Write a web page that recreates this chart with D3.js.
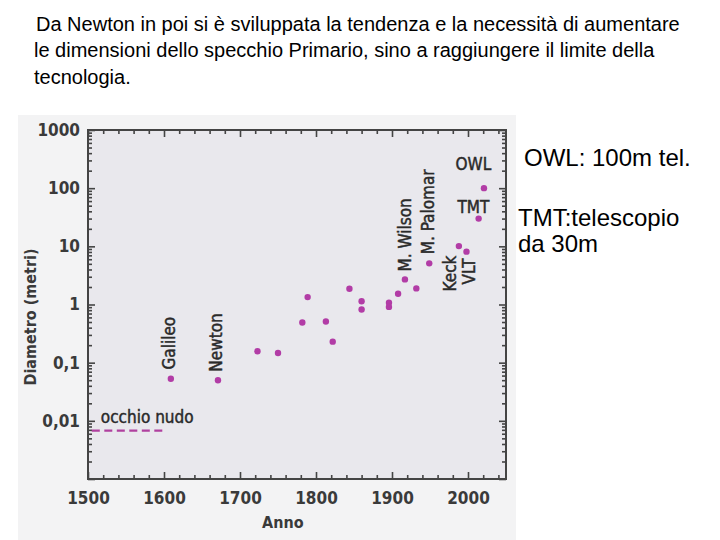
<!DOCTYPE html>
<html>
<head>
<meta charset="utf-8">
<script src="https://cdn.jsdelivr.net/npm/d3@7"></script>
<style>
  body { margin: 0; background: #ffffff; }
  svg { display: block; }
  .intro { font-family: "Liberation Sans", Arial, sans-serif; font-size: 20px; fill: #000; }
  .side  { font-family: "Liberation Sans", Arial, sans-serif; font-size: 24px; fill: #000; }
  .tick text, .lbl { font-family: "DejaVu Sans Condensed", "DejaVu Sans", sans-serif; font-weight: bold; fill: #3a3a3a; }
  .note { font-family: "DejaVu Sans Condensed", "DejaVu Sans", sans-serif; font-size: 17px; fill: #2a2a2a; stroke: #2a2a2a; stroke-width: 0.45; }
</style>
</head>
<body>
<div id="chart"></div>
<script>
// ---- data ----
const years     = [1609, 1671, 1723, 1750, 1782, 1789, 1813, 1822, 1844, 1860, 1860, 1896, 1896, 1908, 1917, 1932, 1949, 1988, 1998, 2014, 2021];
const diameters = [0.053, 0.05, 0.157, 0.147, 0.49, 1.34, 0.51, 0.23, 1.86, 1.14, 0.82, 1.07, 0.91, 1.53, 2.7, 1.89, 5.1, 10.1, 8.1, 30, 100];

// rotated labels (anchor = bottom centre of the text, in data units)
const vNames = ["Galileo", "Newton", "M. Wilson", "M. Palomar", "Keck", "VLT"];
const vYears = [1608, 1670, 1918, 1949, 1978, 2003];
const vDiams = [0.076, 0.07, 3.7, 7.3, 1.68, 2.21];

// horizontal labels
const hNames = ["OWL", "TMT"];
const hYears = [2007, 2007];
const hDiams = [204, 37];

// naked eye limit
const eyeYears = [1505, 1600];
const eyeDiam  = 0.0068;

const xMajor = [1500, 1600, 1700, 1800, 1900, 2000];
const yMajor = [0.001, 0.01, 0.1, 1, 10, 100, 1000];
const yLabels = {0.01: "0,01", 0.1: "0,1", 1: "1", 10: "10", 100: "100", 1000: "1000"};

const introLines = [
  "Da Newton in poi si è sviluppata la tendenza e la necessità di aumentare",
  "le dimensioni dello specchio Primario, sino a raggiungere il limite della",
  "tecnologia."
];
const sideLines = ["OWL: 100m tel.", "TMT:telescopio", "da 30m"];

// ---- drawing ----
const W = 720, H = 540;
const svg = d3.select("#chart").append("svg")
    .attr("width", W)
    .attr("height", H);

// intro text
svg.selectAll(".intro")
    .data(introLines)
    .enter().append("text")
    .attr("class", "intro")
    .attr("x", (d, i) => i === 0 ? 36 : 34)
    .attr("y", (d, i) => [31, 57, 84][i])
    .text(d => d);

// scanned-figure background
svg.append("rect")
    .attr("x", 18).attr("y", 115)
    .attr("width", 498).attr("height", 425)
    .attr("fill", "#f3f3f4");

const plot = {left: 88, right: 506, top: 130, bottom: 479};

const x = d3.scaleLinear().domain([1500, 2050]).range([plot.left, plot.right]);
const y = d3.scaleLog().domain([0.001, 1000]).range([plot.bottom, plot.top]);

svg.append("rect")
    .attr("x", plot.left).attr("y", plot.top)
    .attr("width", plot.right - plot.left)
    .attr("height", plot.bottom - plot.top)
    .attr("fill", "#e9e8ed");

// minor tick values
let xMinor = d3.range(1500, 2051, 20).filter(v => v % 100 !== 0);
let yMinor = [];
for (let e = -3; e < 3; e++) {
    for (let k = 2; k <= 9; k++) yMinor.push(k * Math.pow(10, e));
}

function styleAxis(g) {
    g.select(".domain").remove();
    g.selectAll(".tick line").attr("stroke", "#444").attr("stroke-width", 1.6);
}

// bottom
svg.append("g")
    .attr("transform", `translate(0,${plot.bottom})`)
    .call(d3.axisBottom(x).tickValues(xMajor).tickSize(-7).tickPadding(13).tickFormat(d3.format("d")))
    .call(styleAxis)
    .selectAll("text").style("font-size", "17px");
svg.append("g")
    .attr("transform", `translate(0,${plot.bottom})`)
    .call(d3.axisBottom(x).tickValues(xMinor).tickSize(-4).tickFormat(""))
    .call(styleAxis);

// top
svg.append("g")
    .attr("transform", `translate(0,${plot.top})`)
    .call(d3.axisTop(x).tickValues(xMajor).tickSize(-7).tickFormat(""))
    .call(styleAxis);
svg.append("g")
    .attr("transform", `translate(0,${plot.top})`)
    .call(d3.axisTop(x).tickValues(xMinor).tickSize(-4).tickFormat(""))
    .call(styleAxis);

// left
svg.append("g")
    .attr("transform", `translate(${plot.left},0)`)
    .call(d3.axisLeft(y).tickValues(yMajor).tickSize(-7).tickPadding(8).tickFormat(d => yLabels[d] || ""))
    .call(styleAxis)
    .selectAll("text").style("font-size", "17px");
svg.append("g")
    .attr("transform", `translate(${plot.left},0)`)
    .call(d3.axisLeft(y).tickValues(yMinor).tickSize(-4).tickFormat(""))
    .call(styleAxis);

// right
svg.append("g")
    .attr("transform", `translate(${plot.right},0)`)
    .call(d3.axisRight(y).tickValues(yMajor).tickSize(-7).tickFormat(""))
    .call(styleAxis);
svg.append("g")
    .attr("transform", `translate(${plot.right},0)`)
    .call(d3.axisRight(y).tickValues(yMinor).tickSize(-4).tickFormat(""))
    .call(styleAxis);

// frame
svg.append("rect")
    .attr("x", plot.left).attr("y", plot.top)
    .attr("width", plot.right - plot.left)
    .attr("height", plot.bottom - plot.top)
    .attr("fill", "none")
    .attr("stroke", "#444")
    .attr("stroke-width", 2);

// axis titles
svg.append("text")
    .attr("class", "lbl")
    .attr("transform", `translate(31,317) rotate(-90)`)
    .attr("text-anchor", "middle")
    .attr("dominant-baseline", "middle")
    .style("font-size", "16px")
    .text("Diametro (metri)");

svg.append("text")
    .attr("class", "lbl")
    .attr("x", 262)
    .attr("y", 528)
    .style("font-size", "16px")
    .text("Anno");

// naked eye dashed line + label
svg.append("line")
    .attr("x1", x(eyeYears[0])).attr("x2", x(eyeYears[1]))
    .attr("y1", y(eyeDiam)).attr("y2", y(eyeDiam))
    .attr("stroke", "#b0409f")
    .attr("stroke-width", 2.2)
    .attr("stroke-dasharray", "8,4.5");

svg.append("text")
    .attr("class", "note")
    .attr("x", x(eyeYears[0]) + 9)
    .attr("y", y(eyeDiam) - 8)
    .text("occhio nudo");

// points
svg.selectAll(".dot")
    .data(years.map((d, i) => ({year: d, diam: diameters[i]})))
    .enter().append("circle")
    .attr("class", "dot")
    .attr("cx", d => x(d.year))
    .attr("cy", d => y(d.diam))
    .attr("r", 3.2)
    .attr("fill", "#b23ca6");

// rotated labels
svg.selectAll(".vlabel")
    .data(vNames.map((d, i) => ({name: d, year: vYears[i], diam: vDiams[i]})))
    .enter().append("text")
    .attr("class", "note vlabel")
    .attr("transform", d => `translate(${x(d.year)},${y(d.diam)}) rotate(-90)`)
    .attr("dominant-baseline", "middle")
    .text(d => d.name);

// horizontal labels
svg.selectAll(".hlabel")
    .data(hNames.map((d, i) => ({name: d, year: hYears[i], diam: hDiams[i]})))
    .enter().append("text")
    .attr("class", "note hlabel")
    .attr("x", d => x(d.year))
    .attr("y", d => y(d.diam))
    .attr("text-anchor", "middle")
    .text(d => d.name);

// side notes
svg.selectAll(".side")
    .data(sideLines)
    .enter().append("text")
    .attr("class", "side")
    .attr("x", (d, i) => i === 0 ? 524 : 518)
    .attr("y", (d, i) => [166, 226, 252][i])
    .text(d => d);
</script>
</body>
</html>
